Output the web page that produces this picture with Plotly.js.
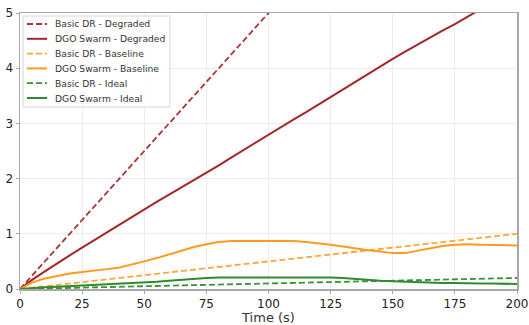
<!DOCTYPE html>
<html>
<head>
<meta charset="utf-8">
<script src="https://cdn.plot.ly/plotly-3.0.1.min.js"></script>
<style>html,body{margin:0;padding:0;background:#fff;}#chart{width:529px;height:325px;}</style>
</head>
<body>
<div id="chart"></div>
<script>
// Basic DR (linear) series
const tBasic = [0, 50, 100, 150, 200];
const basicDegraded = [0, 2.5, 5.0, 7.5, 10.0];
const basicBaseline = [0, 0.25, 0.5, 0.75, 1.0];
const basicIdeal = [0, 0.05, 0.10, 0.15, 0.20];

// DGO Swarm series (5 s steps)
const tSwarm = [0,5,10,15,20,25,30,35,40,45,50,55,60,65,70,75,80,85,90,95,100,105,110,115,120,125,130,135,140,145,150,155,160,165,170,175,180,185,190,195,200];
const swarmDegraded = [0,0.17,0.32,0.47,0.61,0.75,0.89,1.03,1.17,1.31,1.45,1.58,1.71,1.84,1.97,2.10,2.24,2.38,2.52,2.66,2.80,2.93,3.07,3.20,3.34,3.48,3.62,3.76,3.90,4.03,4.17,4.30,4.43,4.55,4.68,4.80,4.93,5.06,5.19,5.32,5.45];
const swarmBaseline = [0,0.12,0.19,0.24,0.28,0.31,0.33,0.36,0.39,0.44,0.50,0.56,0.63,0.69,0.76,0.81,0.85,0.87,0.87,0.87,0.86,0.86,0.87,0.85,0.83,0.80,0.77,0.73,0.70,0.68,0.65,0.65,0.69,0.74,0.78,0.80,0.81,0.80,0.80,0.79,0.79];
const swarmIdeal = [0,0.02,0.03,0.04,0.05,0.06,0.07,0.08,0.09,0.10,0.11,0.13,0.15,0.17,0.19,0.20,0.21,0.21,0.22,0.22,0.22,0.22,0.22,0.22,0.21,0.21,0.20,0.18,0.16,0.15,0.14,0.13,0.12,0.12,0.11,0.11,0.10,0.10,0.10,0.09,0.09];

const seriesNames = ['Basic DR - Degraded', 'DGO Swarm - Degraded', 'Basic DR - Baseline', 'DGO Swarm - Baseline', 'Basic DR - Ideal', 'DGO Swarm - Ideal'];
const xTicks = [0, 25, 50, 75, 100, 125, 150, 175, 200];
const yTicks = [0, 1, 2, 3, 4, 5];

const RED = '#a3262a', RED_D = '#aa3434';
const ORG = '#ff9a1f', ORG_D = '#ffa53a';
const GRN = '#2e8b2e', GRN_D = '#3a923a';
const DASH = '6px,3px';
const dashedLine = c => ({color: c, width: 1.8, dash: DASH});
const solidLine = c => ({color: c, width: 2});

const traces = [
  {x: tBasic, y: basicDegraded, name: seriesNames[0], mode: 'lines', line: dashedLine(RED_D)},
  {x: tSwarm, y: swarmDegraded, name: seriesNames[1], mode: 'lines', line: solidLine(RED)},
  {x: tBasic, y: basicBaseline, name: seriesNames[2], mode: 'lines', line: dashedLine(ORG_D)},
  {x: tSwarm, y: swarmBaseline, name: seriesNames[3], mode: 'lines', line: solidLine(ORG)},
  {x: tBasic, y: basicIdeal, name: seriesNames[4], mode: 'lines', line: dashedLine(GRN_D)},
  {x: tSwarm, y: swarmIdeal, name: seriesNames[5], mode: 'lines', line: solidLine(GRN)}
];

// Compact legend (matplotlib-like spacing), built from the traces' own styles
const M = {l: 20, r: 12, t: 13, b: 36};
const W = 529, H = 325;
const PW = W - M.l - M.r, PH = H - M.t - M.b;
const px2x = p => (p - M.l) / PW;
const px2y = p => (H - M.b - p) / PH;
const LEG = {left: 23, top: 16, right: 170, bottom: 107, firstRow: 24, rowStep: 14.8, lineX0: 27, lineX1: 47, textX: 53};
const shapes = [{
  type: 'rect', xref: 'paper', yref: 'paper', layer: 'above',
  x0: px2x(LEG.left), x1: px2x(LEG.right), y0: px2y(LEG.bottom), y1: px2y(LEG.top),
  line: {color: '#d6d6d6', width: 1}, fillcolor: 'rgba(255,255,255,0.85)'
}];
const annotations = [];
traces.forEach((tr, i) => {
  const yc = LEG.firstRow + i * LEG.rowStep;
  shapes.push({
    type: 'line', xref: 'paper', yref: 'paper', layer: 'above',
    x0: px2x(LEG.lineX0), x1: px2x(LEG.lineX1), y0: px2y(yc), y1: px2y(yc),
    line: {color: tr.line.color, width: tr.line.width, dash: tr.line.dash || 'solid'}
  });
  annotations.push({
    xref: 'paper', yref: 'paper', x: px2x(LEG.textX), y: px2y(yc),
    xanchor: 'left', yanchor: 'middle', showarrow: false, text: tr.name,
    font: {family: 'DejaVu Sans', size: 9.2, color: '#333'}
  });
});

const layout = {
  width: W, height: H,
  margin: M,
  paper_bgcolor: '#fff', plot_bgcolor: '#fff',
  font: {family: 'DejaVu Sans', size: 12, color: '#222'},
  showlegend: false,
  shapes: shapes,
  annotations: annotations,
  xaxis: {
    range: [0, 200], tickvals: xTicks, ticktext: xTicks.map(String),
    showgrid: true, gridcolor: '#ececec', gridwidth: 1,
    showline: true, linecolor: '#a8a8a8', linewidth: 1.5, mirror: true,
    ticks: 'outside', ticklen: 3, tickcolor: '#a8a8a8',
    zeroline: false,
    title: {text: 'Time (s)', font: {size: 13, color: '#333'}, standoff: 3},
    tickfont: {size: 12, color: '#222'}
  },
  yaxis: {
    range: [0, 5], tickvals: yTicks, ticktext: yTicks.map(String),
    showgrid: true, gridcolor: '#ececec', gridwidth: 1,
    showline: true, linecolor: '#a8a8a8', linewidth: 1.5, mirror: true,
    ticks: 'outside', ticklen: 3, tickcolor: '#a8a8a8',
    zeroline: false,
    tickfont: {size: 12, color: '#222'}
  }
};

Plotly.newPlot('chart', traces, layout, {displayModeBar: false, staticPlot: true});
</script>
</body>
</html>
